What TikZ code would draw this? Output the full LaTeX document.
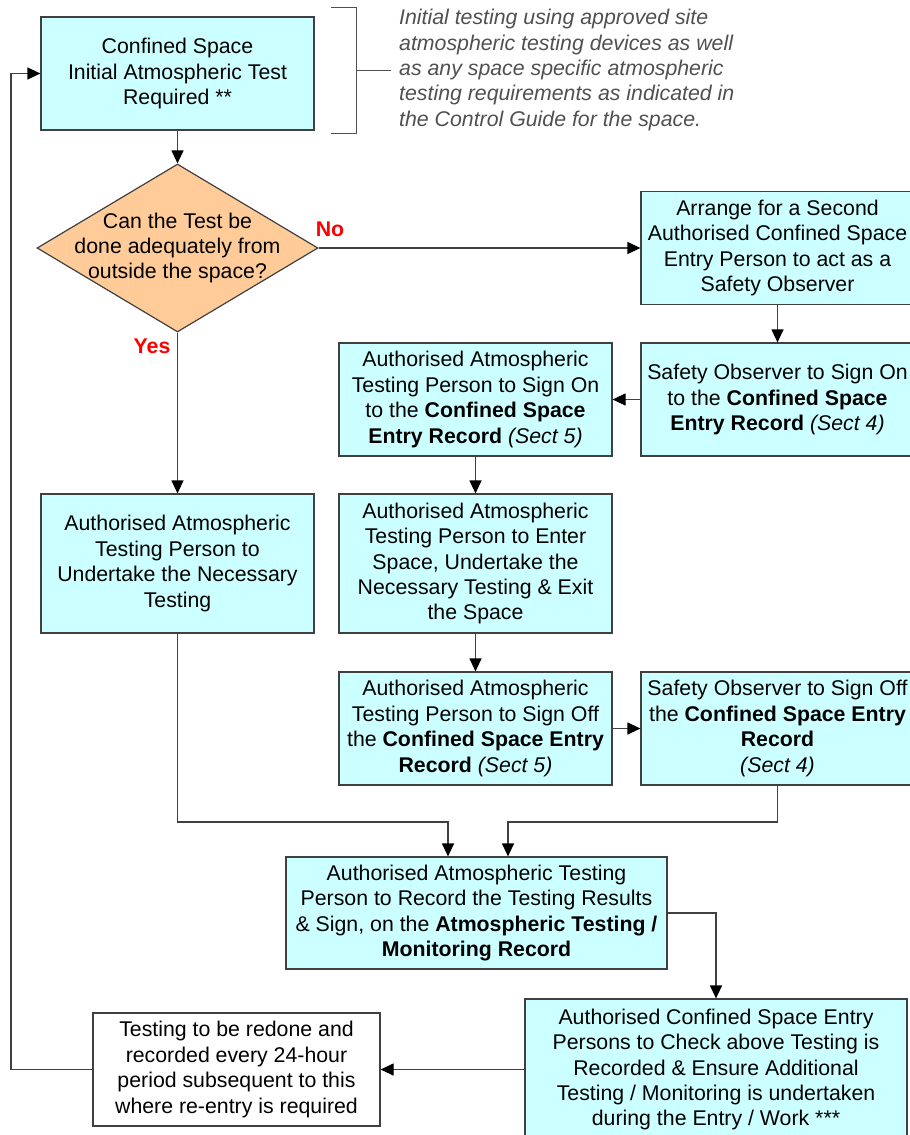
\documentclass[tikz,border=0pt]{standalone}
\usepackage{fontspec}
\setmainfont{Liberation Sans}
\usepackage{xcolor}
\usepackage{tikz}
\usetikzlibrary{positioning, arrows.meta, calc, shapes.geometric}
\definecolor{boxcyan}{RGB}{204,255,255}
\definecolor{decorange}{RGB}{255,204,153}
\definecolor{notegray}{RGB}{80,80,80}
\newcommand{\chartfont}{\fontsize{21.3}{25.4}\selectfont}

\begin{document}
\begin{tikzpicture}[x=1pt, y=-1pt,
			box/.style={rectangle, draw=black!75, fill=boxcyan, line width=1.2pt, align=center, inner sep=0pt, font=\chartfont, minimum width=273pt, minimum height=113pt},
			tallbox/.style={box, minimum height=139pt},
			decision/.style={diamond, draw=black!75, fill=decorange, line width=1.2pt, inner sep=0pt, minimum width=281pt, minimum height=168pt},
			dectext/.style={font=\chartfont, align=center, inner sep=0pt},
			answer/.style={font=\chartfont\bfseries, text=red, inner sep=0pt},
			note/.style={font=\chartfont\itshape, text=notegray, align=left, inner sep=0pt},
			arrow/.style={-{Triangle[length=13pt,width=12pt,color=black]}, line width=1.2pt, draw=black!75},
			]
			\useasboundingbox (0,0) rectangle (910,1135);
			% main column and decision
			\node[box] (start) at (177.5,73.5) {Confined Space\\Initial Atmospheric Test\\Required **};
			\node[decision, label={[dectext]center:{Can the Test be\\done adequately from\\outside the space?}}] (test) at (177.5,248) {};
			\node[answer] (no) at (330,229) {No};
			\node[answer] (yes) at (152,346) {Yes};
			\node[tallbox] (undertake) at (177.5,563.5) {Authorised Atmospheric\\Testing Person to\\Undertake the Necessary\\Testing};
			% observer branch
			\node[box] (arrange) at (777.5,248) {Arrange for a Second\\Authorised Confined Space\\Entry Person to act as a\\Safety Observer};
			\node[box] (soon) at (777.5,399.5) {Safety Observer to Sign On\\to the \textbf{Confined Space}\\\textbf{Entry Record} \textit{(Sect 4)}};
			\node[box] (atpon) at (475.5,399.5) {Authorised Atmospheric\\Testing Person to Sign On\\to the \textbf{Confined Space}\\\textbf{Entry Record} \textit{(Sect 5)}};
			\node[tallbox] (atpenter) at (475.5,563.5) {Authorised Atmospheric\\Testing Person to Enter\\Space, Undertake the\\Necessary Testing \& Exit\\the Space};
			\node[box] (atpoff) at (475.5,728.5) {Authorised Atmospheric\\Testing Person to Sign Off\\the \textbf{Confined Space Entry}\\\textbf{Record} \textit{(Sect 5)}};
			\node[box] (sooff) at (777.5,728.5) {Safety Observer to Sign Off\\the \textbf{Confined Space Entry}\\\textbf{Record}\\\textit{(Sect 4)}};
			% recording and follow-up
			\node[box, minimum width=381pt, minimum height=112pt] (record) at (476.5,913) {Authorised Atmospheric Testing\\Person to Record the Testing Results\\\& Sign, on the \textbf{Atmospheric Testing /}\\\textbf{Monitoring Record}};
			\node[box, minimum width=382pt, minimum height=141pt] (check) at (716,1069.5) {Authorised Confined Space Entry\\Persons to Check above Testing is\\Recorded \& Ensure Additional\\Testing / Monitoring is undertaken\\during the Entry / Work ***};
			\node[box, fill=white, minimum width=287pt] (redo) at (236.5,1069.5) {Testing to be redone and\\recorded every 24-hour\\period subsequent to this\\where re-entry is required};
			% side note
			\node[note, anchor=west, inner xsep=8pt] (note) at (391,70) {Initial testing using approved site\\atmospheric testing devices as well\\as any space specific atmospheric\\testing requirements as indicated in\\the Control Guide for the space.};
			\coordinate (brace) at (356,70);
			\draw[notegray, line width=1pt] (331,7) -- (356,7) -- (356,133) -- (331,133);
			\draw[notegray, line width=1pt] (brace) -- (note.west);
			% connectors
			\coordinate (mergeL) at (448,822);
			\coordinate (mergeR) at (508,822);
			\coordinate (loop) at (11,1069.5);
			\draw[arrow] (start) -- (test);
			\draw[arrow] (test.east) -- (arrange.west);
			\draw[arrow] (test.south) -- (undertake.north);
			\draw[arrow] (arrange) -- (soon);
			\draw[arrow] (soon) -- (atpon);
			\draw[arrow] (atpon) -- (atpenter);
			\draw[arrow] (atpenter) -- (atpoff);
			\draw[arrow] (atpoff) -- (sooff);
			\draw[arrow] (undertake.south) |- (mergeL) -- (mergeL |- record.north);
			\draw[arrow] (sooff.south) |- (mergeR) -- (mergeR |- record.north);
			\draw[arrow] (record.east) -| (check.north);
			\draw[arrow] (check.west) -- (redo.east);
			\draw[arrow] (redo.west) -- (loop) |- (start.west);
		\end{tikzpicture}
\end{document}
